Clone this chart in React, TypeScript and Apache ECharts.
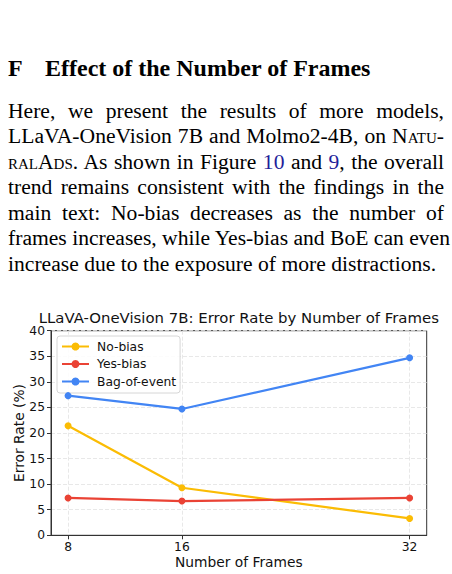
import React, { useEffect, useRef } from "react";
import * as echarts from "echarts";

const frames = [8, 16, 32];
const noBias = [21.4, 9.3, 3.3];
const yesBias = [7.3, 6.7, 7.3];
const bagOfEvent = [27.3, 24.7, 34.7];
const seriesNames = ["No-bias", "Yes-bias", "Bag-of-event"];
const seriesColors = ["#FBBC04", "#EA4335", "#4285F4"];
const chartTitle = "LLaVA-OneVision 7B: Error Rate by Number of Frames";
const xAxisName = "Number of Frames";
const yAxisName = "Error Rate (%)";

const FONT = "DejaVu Sans";
const SERIF = "'Liberation Serif', 'Times New Roman', serif";

const BODY_SIZE = 21.6;
const LINE_H = 25.5;
const FIRST_BASELINE = 119;

const sc: React.CSSProperties = { fontVariant: "small-caps" };
const link: React.CSSProperties = { color: "#1f1f9a" };

const lines: React.ReactNode[] = [
  <>Here, we present the results of more models,</>,
  <>
    LLaVA-OneVision 7B and Molmo2-4B, on N<span style={sc}>atu</span>-
  </>,
  <>
    <span style={sc}>ral</span>A<span style={sc}>ds</span>. As shown in Figure{" "}
    <span style={link}>10</span> and <span style={link}>9</span>, the overall
  </>,
  <>trend remains consistent with the findings in the</>,
  <>main text: No-bias decreases as the number of</>,
  <>frames increases, while Yes-bias and BoE can even</>,
  <>increase due to the exposure of more distractions.</>,
];

function Chart() {
  const ref = useRef<HTMLDivElement>(null);
  useEffect(() => {
    if (!ref.current) return;
    const chart = echarts.init(ref.current, null, { renderer: "svg" });
    const data = [noBias, yesBias, bagOfEvent];
    chart.setOption({
      animation: false,
      backgroundColor: "#fff",
      graphic: [
        {
          type: "text",
          x: 238.8,
          y: 20.5,
          z: 10,
          style: {
            text: chartTitle,
            textAlign: "center",
            textVerticalAlign: "top",
            fontFamily: FONT,
            fontSize: 14.9,
            fill: "#111",
          },
        },
      ],
      legend: {
        orient: "vertical",
        left: 57,
        top: 46,
        data: seriesNames,
        itemWidth: 27,
        itemHeight: 10,
        itemGap: 5.5,
        padding: [4.5, 4, 5.5, 4],
        borderColor: "#d6d6d6",
        borderWidth: 1,
        borderRadius: 3,
        backgroundColor: "rgba(255,255,255,0.85)",
        textStyle: {
          fontFamily: FONT,
          fontSize: 12.3,
          color: "#111",
          padding: [0, 0, 0, 3],
        },
      },
      grid: {
        left: 51,
        right: 25.3,
        top: 40.7,
        bottom: 38.7,
        outerBoundsMode: "none",
        containLabel: false,
        show: true,
        borderColor: "#333",
        borderWidth: 1,
        backgroundColor: "transparent",
      },
      xAxis: {
        type: "value",
        min: 6.8,
        max: 33.2,
        name: xAxisName,
        nameLocation: "middle",
        nameGap: 20,
        nameMoveOverlap: false,
        nameTextStyle: { fontFamily: FONT, fontSize: 13.8, color: "#111" },
        axisLine: { show: true, lineStyle: { color: "#333", width: 1 } },
        axisTick: {
          show: true,
          customValues: frames,
          length: 4,
          lineStyle: { color: "#333" },
        },
        axisLabel: {
          customValues: frames,
          fontFamily: FONT,
          fontSize: 12.3,
          color: "#111",
          margin: 6,
        },
        splitLine: {
          show: true,
          lineStyle: { color: "#e2e2e2", type: [4, 2], width: 0.8 },
        },
      },
      yAxis: {
        type: "value",
        min: 0,
        max: 40,
        interval: 5,
        name: yAxisName,
        nameLocation: "middle",
        nameGap: 25,
        nameMoveOverlap: false,
        nameTextStyle: { fontFamily: FONT, fontSize: 13.8, color: "#111" },
        axisLine: { show: true, lineStyle: { color: "#333", width: 1 } },
        axisTick: { show: true, length: 4, lineStyle: { color: "#333" } },
        axisLabel: {
          fontFamily: FONT,
          fontSize: 12.3,
          color: "#111",
          margin: 6,
        },
        splitLine: {
          show: true,
          lineStyle: { color: "#e2e2e2", type: [4, 2], width: 0.8 },
        },
      },
      series: seriesNames.map((name, i) => ({
        name,
        type: "line",
        data: frames.map((f, j) => [f, data[i][j]]),
        symbol: "circle",
        symbolSize: 7,
        showSymbol: true,
        color: seriesColors[i],
        lineStyle: { color: seriesColors[i], width: 2.2 },
        itemStyle: { color: seriesColors[i] },
        z: 3 + i,
      })),
    });
    return () => chart.dispose();
  }, []);
  return (
    <div
      ref={ref}
      style={{ position: "absolute", left: 0, top: 290, width: 452, height: 284 }}
    />
  );
}

export default function App() {
  const baselineOffset = (LINE_H - 1.107 * BODY_SIZE) / 2 + 0.891 * BODY_SIZE;
  return (
    <div
      style={{
        position: "fixed",
        left: 0,
        top: 0,
        width: 452,
        height: 574,
        background: "#fff",
        overflow: "hidden",
        fontFamily: SERIF,
        color: "#000",
      }}
    >
      <div
        style={{
          position: "absolute",
          left: 8,
          top: 75.7 - ((28 - 1.107 * 24) / 2 + 0.891 * 24),
          fontSize: 24,
          lineHeight: "28px",
          fontWeight: "bold",
          whiteSpace: "nowrap",
        }}
      >
        <span style={{ display: "inline-block", width: 37 }}>F</span>
        Effect of the Number of Frames
      </div>
      {lines.map((ln, i) => (
        <div
          key={i}
          style={{
            position: "absolute",
            left: 8,
            width: 436,
            top: FIRST_BASELINE + i * LINE_H - baselineOffset,
            fontSize: BODY_SIZE,
            lineHeight: `${LINE_H}px`,
            whiteSpace: "nowrap",
            textAlign: i === lines.length - 1 ? "left" : "justify",
            textAlignLast: i === lines.length - 1 ? "left" : "justify",
          }}
        >
          {ln}
        </div>
      ))}
      <Chart />
    </div>
  );
}
